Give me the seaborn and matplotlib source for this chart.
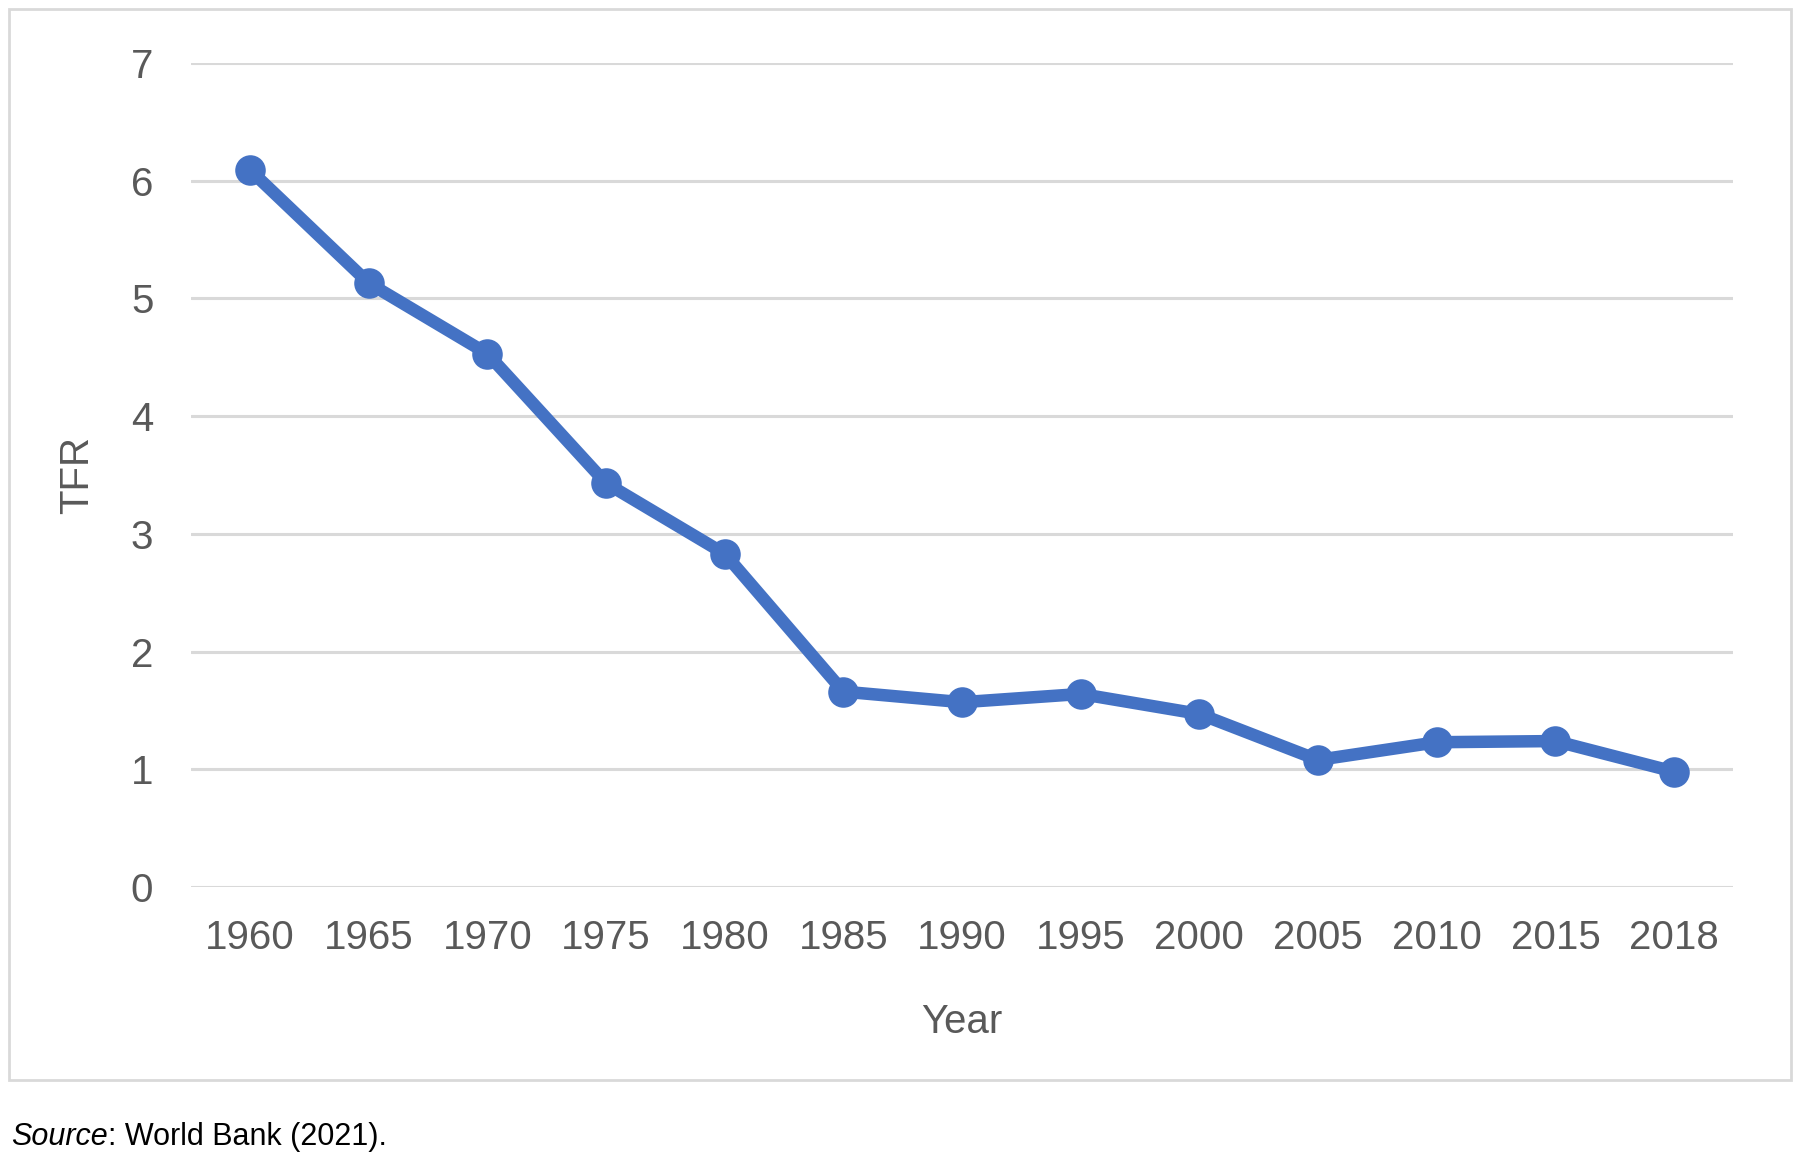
import numpy as np
import matplotlib.pyplot as plt
import seaborn as sns
import pandas as pd
from matplotlib.patches import Rectangle

years = ['1960', '1965', '1970', '1975', '1980', '1985', '1990',
         '1995', '2000', '2005', '2010', '2015', '2018']
tfr = [6.09, 5.13, 4.53, 3.43, 2.83, 1.66, 1.57,
       1.64, 1.47, 1.08, 1.23, 1.24, 0.98]
yticks = [0, 1, 2, 3, 4, 5, 6, 7]

df = pd.DataFrame({'Year': years, 'TFR': tfr})

sns.set_style('white')
plt.rcParams['font.family'] = ['Liberation Sans', 'DejaVu Sans']

fig = plt.figure(figsize=(18, 11.58), dpi=100)
ax = fig.add_axes([0.106, 0.234, 0.857, 0.7116])

ax.grid(axis='y', color='#d9d9d9', linewidth=2.2)
ax.set_axisbelow(True)
sns.pointplot(data=df, x='Year', y='TFR', color='#4472c4', ax=ax,
              markersize=22, linewidth=9, markeredgewidth=0)

ax.set_xlim(-0.5, len(years) - 0.5)
ax.set_ylim(0, 7)
ax.set_yticks(yticks)
for s in ax.spines.values():
    s.set_visible(False)
ax.tick_params(axis='both', length=0, labelsize=29, labelcolor='#595959')
ax.tick_params(axis='x', pad=23)
ax.tick_params(axis='y', pad=27)
ax.set_xlabel('Year', fontsize=29, color='#595959', labelpad=33)
ax.set_ylabel('TFR', fontsize=29, color='#595959', labelpad=25)

# light grey frame around the chart area
fig.patches.append(Rectangle((9 / 1800, 1 - 1080 / 1158), 1782 / 1800, 1071 / 1158,
                             transform=fig.transFigure, fill=False,
                             edgecolor='#d9d9d9', linewidth=2))

src = fig.text(0.006, 0.018, 'Source', fontsize=22, style='italic', color='black', va='center')
ax.annotate(': World Bank (2021).', xy=(1, 0.5), xycoords=src, va='center',
            fontsize=22, color='black', annotation_clip=False)

fig.savefig('out.png', dpi=100)
